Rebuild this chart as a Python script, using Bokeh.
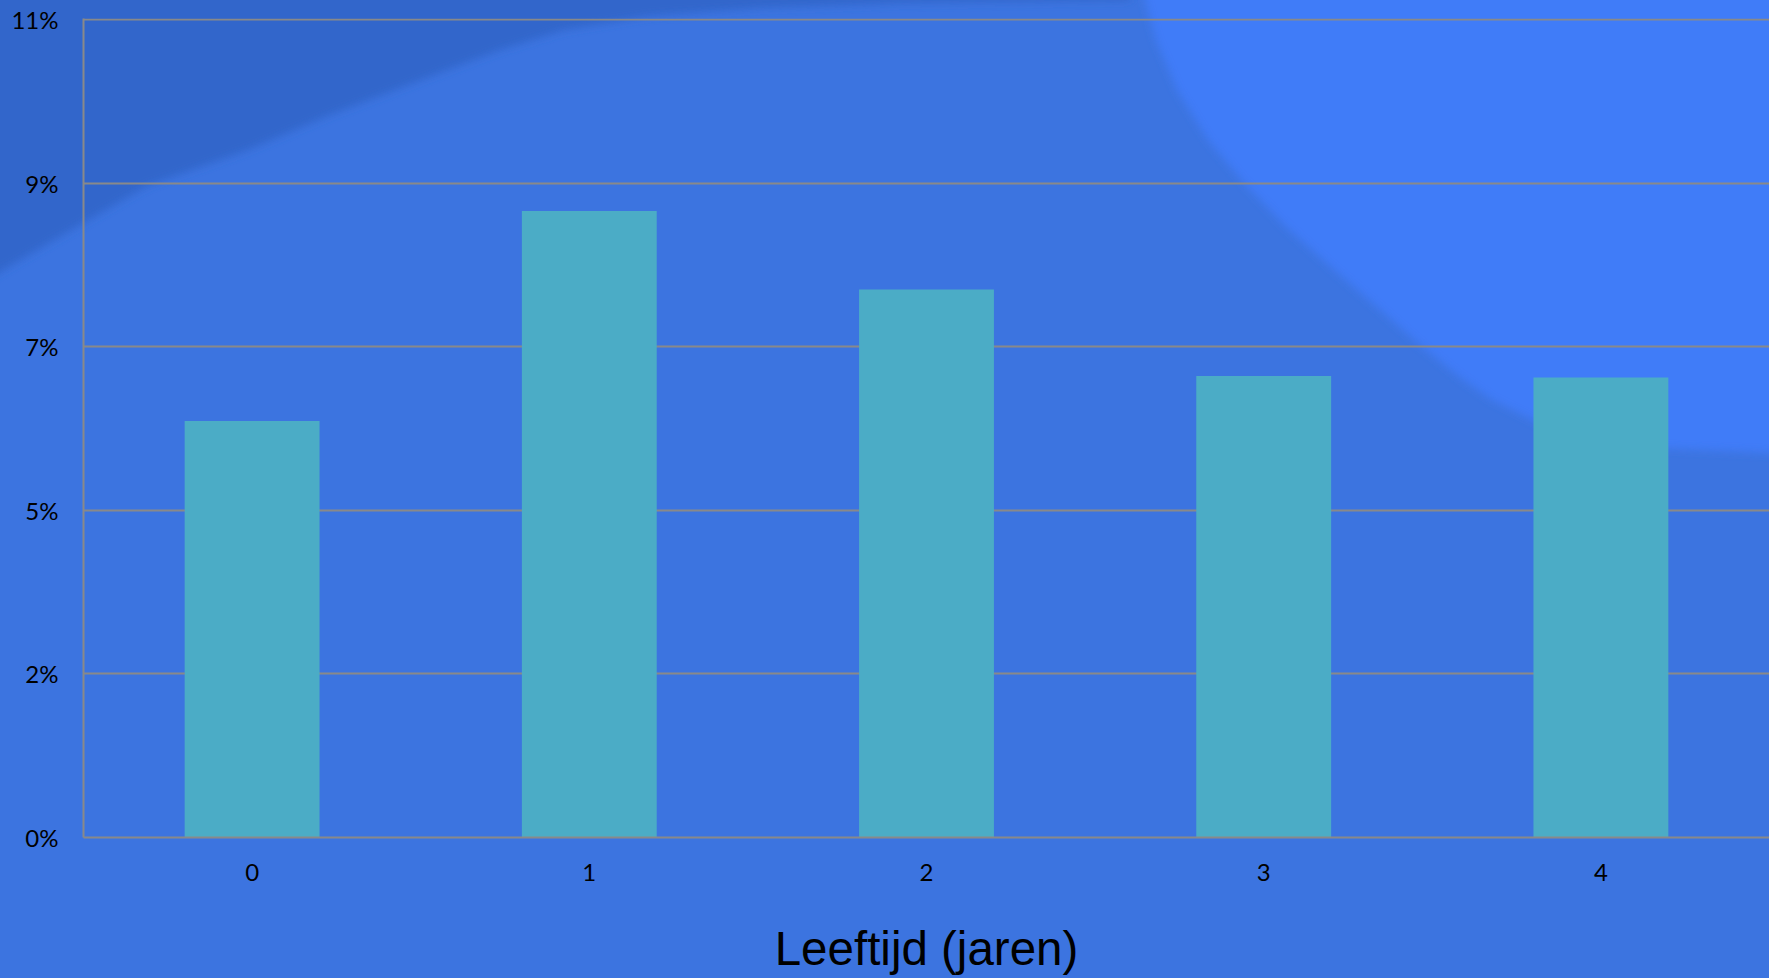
from urllib.parse import quote
from bokeh.plotting import figure
from bokeh.models import FactorRange, Range1d, FixedTicker, ColumnDataSource
from bokeh.embed import file_html
from bokeh.resources import INLINE

# ---- data ----
ages = ["0", "1", "2", "3", "4"]
share_pct = [5.73, 8.62, 7.54, 6.35, 6.33]
y_ticks = [0, 2.25, 4.5, 6.75, 9.0, 11.25]
y_tick_labels = ["0%", "2%", "5%", "7%", "9%", "11%"]
x_title = "Leeftijd (jaren)"

W, H = 1769, 978
BASE = "#3C74E0"
DARK = "#3166CB"
LIGHT = "#407CF8"
BAR = "#4BACC6"
GRID = "#898989"

# decorative slide background (CSS, svg data uri)
light_pts = [(1145, 0), (1156, 40), (1177, 90), (1208, 140), (1244, 183), (1287, 228),
             (1332, 268), (1378, 308), (1420, 345), (1458, 376), (1492, 400), (1557, 432),
             (1640, 447), (1769, 453), (1800, 455), (1800, -20), (1145, -20)]
light_d = "M" + " L".join(f"{x},{y}" for x, y in light_pts) + " Z"
dark_pts = [(-20, 285), (0, 272), (68, 232), (147, 186), (248, 150), (330, 115), (429, 77),
            (500, 50), (564, 30), (650, 16), (760, 8), (900, 3), (1130, 0), (1130, -20), (-20, -20)]
dark_d = "M" + " L".join(f"{x},{y}" for x, y in dark_pts) + " Z"
svg = (
    f"<svg xmlns='http://www.w3.org/2000/svg' width='{W}' height='{H}' viewBox='0 0 {W} {H}'>"
    "<defs><filter id='b' x='-5%' y='-5%' width='110%' height='110%'><feGaussianBlur stdDeviation='4'/></filter></defs>"
    f"<rect width='{W}' height='{H}' fill='{BASE}'/>"
    f"<path d='{dark_d}' fill='{DARK}' filter='url(#b)'/>"
    f"<path d='{light_d}' fill='{LIGHT}' filter='url(#b)'/>"
    "</svg>"
)
bg_url = "url(\"data:image/svg+xml;charset=utf-8," + quote(svg) + "\")"

src = ColumnDataSource(data=dict(age=ages, share=share_pct))

p = figure(
    width=W, height=H,
    x_range=FactorRange(factors=ages, range_padding=0),
    y_range=Range1d(0, 11.27),
    output_backend="svg", toolbar_location=None,
    min_border_left=83, min_border_right=0, min_border_top=18, min_border_bottom=141,
)
p.styles = {"background-color": BASE, "background-image": bg_url,
            "background-size": f"{W}px {H}px", "background-repeat": "no-repeat"}
p.border_fill_color = None
p.background_fill_color = None
p.outline_line_color = None

p.vbar(x="age", top="share", width=0.4, source=src, fill_color=BAR, line_color=None)

# y axis
p.yaxis.ticker = FixedTicker(ticks=y_ticks)
p.yaxis.major_label_overrides = {float(t): l for t, l in zip(y_ticks, y_tick_labels)}
p.yaxis.axis_line_color = GRID
p.yaxis.axis_line_width = 2
p.yaxis.major_tick_line_color = None
p.yaxis.minor_tick_line_color = None
p.yaxis.major_label_standoff = 19
p.yaxis.major_label_text_font = "Lato"
p.yaxis.major_label_text_font_size = "24px"
p.yaxis.major_label_text_color = "#000000"

# x axis
p.xaxis.axis_line_color = GRID
p.xaxis.axis_line_width = 2
p.xaxis.major_tick_line_color = None
p.xaxis.minor_tick_line_color = None
p.xaxis.major_label_standoff = 20
p.xaxis.major_label_text_font = "Lato"
p.xaxis.major_label_text_font_size = "24px"
p.xaxis.major_label_text_color = "#000000"
p.xaxis.axis_label = x_title
p.xaxis.axis_label_text_font = "Liberation Sans"
p.xaxis.axis_label_text_font_style = "normal"
p.xaxis.axis_label_text_font_size = "47.5px"
p.xaxis.axis_label_text_color = "#000000"
p.xaxis.axis_label_standoff = 38

# grid
p.xgrid.grid_line_color = None
p.ygrid.grid_line_color = GRID
p.ygrid.grid_line_width = 2

open("out.html", "w").write(file_html(p, INLINE))
